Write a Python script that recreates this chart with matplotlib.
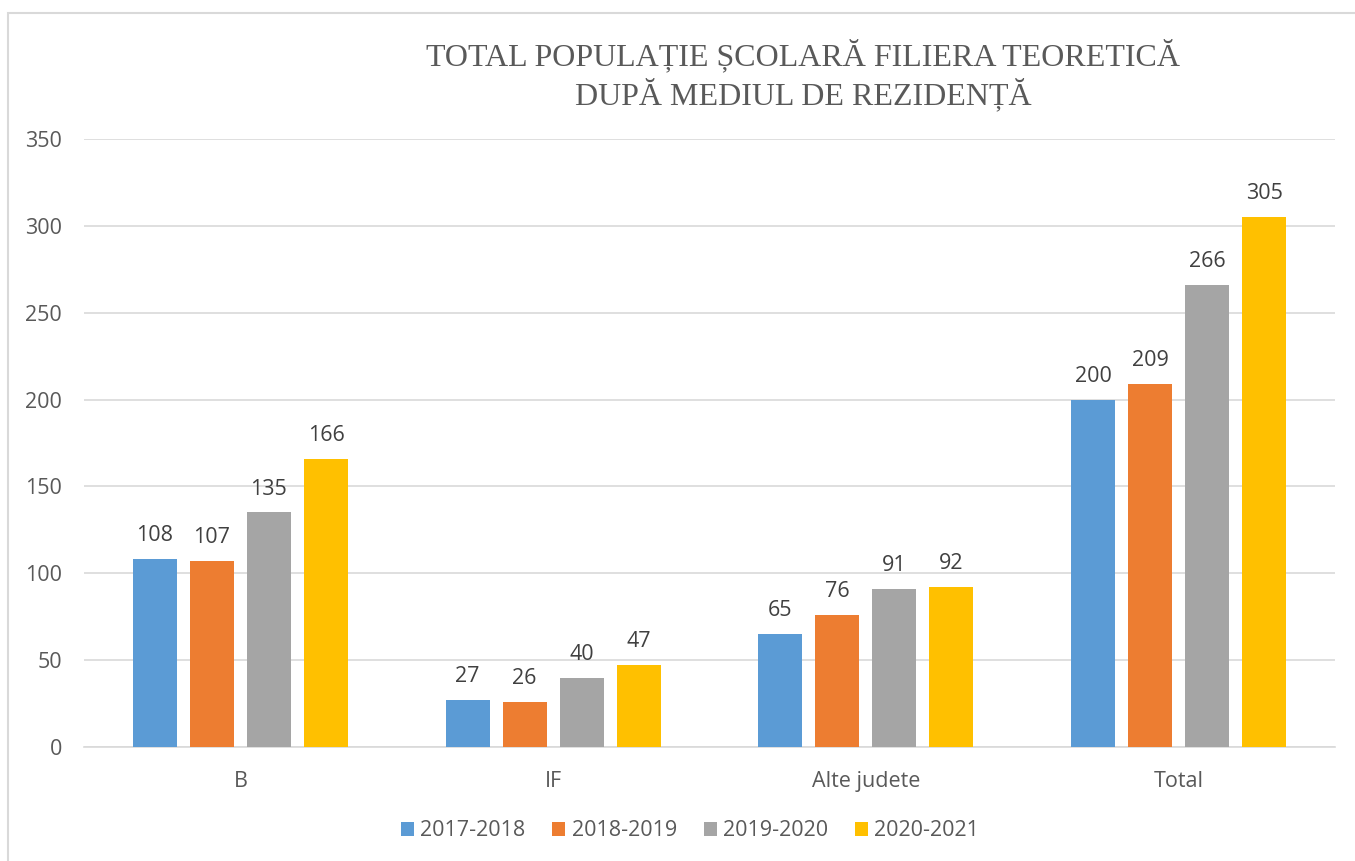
import matplotlib.pyplot as plt
import matplotlib.patches as patches
import numpy as np

categories = ["B", "IF", "Alte judete", "Total"]
years = ["2017-2018", "2018-2019", "2019-2020", "2020-2021"]
v_2017 = [108, 27, 65, 200]
v_2018 = [107, 26, 76, 209]
v_2019 = [135, 40, 91, 266]
v_2020 = [166, 47, 92, 305]
colors = ["#5B9BD5", "#ED7D31", "#A5A5A5", "#FFC000"]

W, H = 1355, 861
fig = plt.figure(figsize=(W / 100, H / 100), dpi=100)
ax = fig.add_axes([84 / W, 1 - 747 / H, (1335 - 84) / W, (747 - 139) / H])

font = ["Open Sans", "DejaVu Sans"]
txt = "#595959"
fs = 15.5

# chart border
fig.patches.append(patches.Rectangle((8 / W, -0.05), 1.1, 1 - 13 / H + 0.05,
                                     transform=fig.transFigure, fill=False,
                                     edgecolor="#D9D9D9", linewidth=1.5))

x = np.arange(len(categories))
step = 0.1824
width = 0.141
series = [v_2017, v_2018, v_2019, v_2020]
for i, vals in enumerate(series):
    pos = x + (i - 1.5) * step
    bars = ax.bar(pos, vals, width, color=colors[i], label=years[i], zorder=3)
    for b, v in zip(bars, vals):
        ax.text(b.get_x() + b.get_width() / 2, v + 13.5, str(v), ha="center",
                va="center", fontsize=fs, color="#404040", family=font)

ax.set_xlim(-0.5, 3.5)
ax.set_ylim(0, 350)
ax.set_yticks(range(0, 351, 50))
ax.yaxis.grid(True, color="#D9D9D9", linewidth=1.2, zorder=0)
for s in ["top", "right", "left"]:
    ax.spines[s].set_visible(False)
ax.spines["bottom"].set_color("#D9D9D9")
ax.spines["bottom"].set_linewidth(1.2)
ax.tick_params(axis="both", length=0, labelsize=fs, labelcolor=txt)
ax.tick_params(axis="y", pad=16)
ax.tick_params(axis="x", pad=17)
ax.set_xticks(x)
ax.set_xticklabels(categories, family=font)
for lab in ax.get_yticklabels():
    lab.set_family(font)

fig.text(803 / W, 1 - 75 / H,
         "TOTAL POPULAȚIE ȘCOLARĂ FILIERA TEORETICĂ\nDUPĂ MEDIUL DE REZIDENȚĂ",
         ha="center", va="center", fontsize=23, color=txt,
         family=["Liberation Serif", "DejaVu Serif"], linespacing=1.18)

leg = fig.legend(loc="center", bbox_to_anchor=(690 / W, 1 - 831 / H), ncol=4,
                 frameon=False, prop={"family": font, "size": fs},
                 handlelength=0.6, handleheight=0.6, handletextpad=0.3,
                 columnspacing=1.25)
for t in leg.get_texts():
    t.set_color(txt)

fig.savefig("out.png", dpi=100)
